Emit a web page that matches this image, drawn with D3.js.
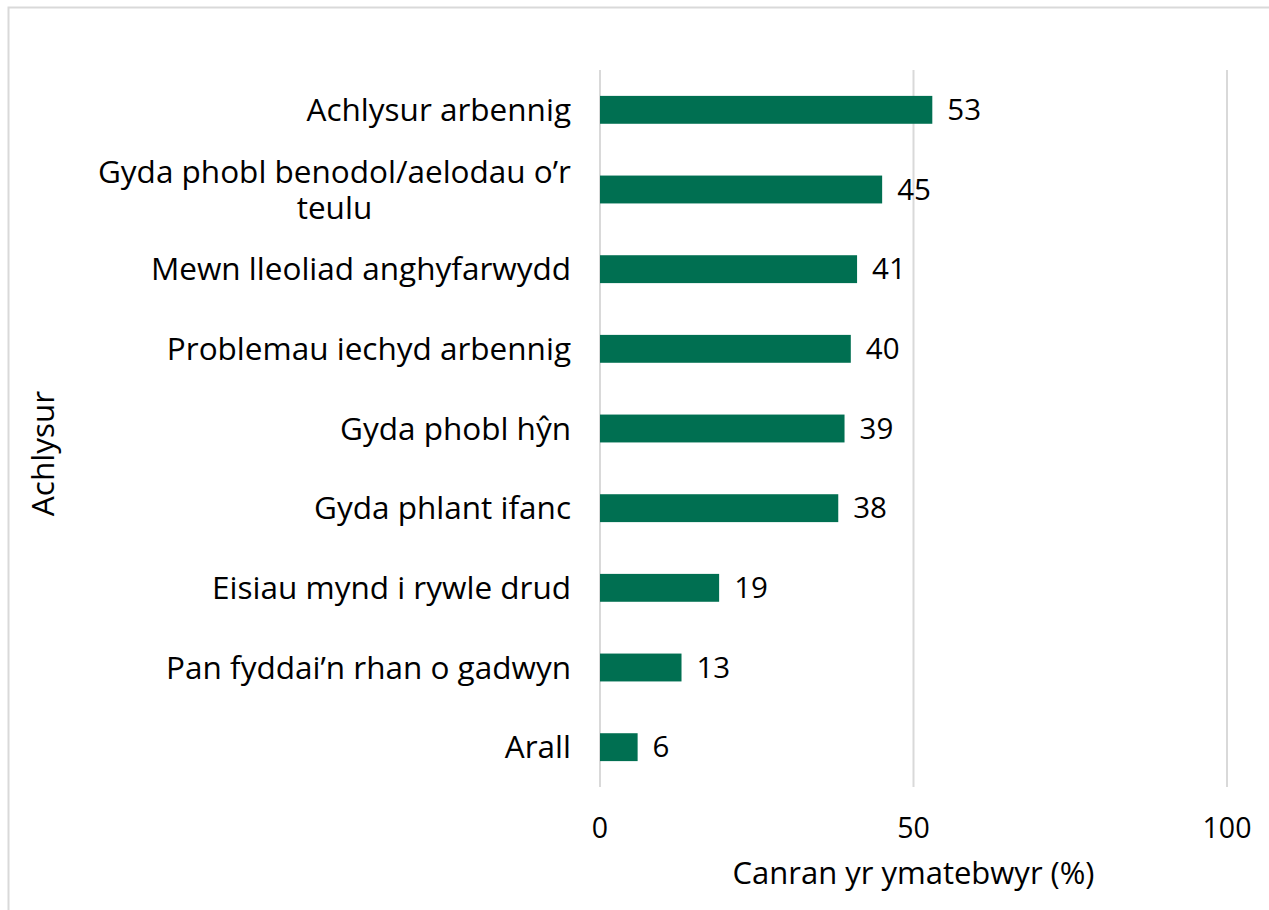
<!DOCTYPE html>
<html>
<head>
<meta charset="utf-8">
<script src="https://cdn.jsdelivr.net/npm/d3@7"></script>
<style>
    body { margin: 0; background: #fff; }
    text { font-family: "Open Sans", sans-serif; fill: #000; }
</style>
</head>
<body>
<svg id="chart" width="1269" height="910"></svg>
<script>
// data
var categories = [
    'Achlysur arbennig',
    'Gyda phobl benodol/aelodau o\u2019r|teulu',
    'Mewn lleoliad anghyfarwydd',
    'Problemau iechyd arbennig',
    'Gyda phobl h\u0177n',
    'Gyda phlant ifanc',
    'Eisiau mynd i rywle drud',
    'Pan fyddai\u2019n rhan o gadwyn',
    'Arall'
];
var values = [53, 45, 41, 40, 39, 38, 19, 13, 6];
var xTicks = [0, 50, 100];
var xTitle = 'Canran yr ymatebwyr (%)';
var yTitle = 'Achlysur';

var svg = d3.select('#chart');

// frame (only top and left edges show in the picture)
svg.append('rect')
    .attr('x', 8.5).attr('y', 7.5)
    .attr('width', 1300).attr('height', 1000)
    .attr('fill', 'none')
    .attr('stroke', '#d9d9d9')
    .attr('stroke-width', 2);

var plot = { left: 600, right: 1227, top: 70, bottom: 787 };

var x = d3.scaleLinear().domain([0, 100]).range([plot.left, plot.right]);
var y = d3.scaleBand().domain(categories).range([plot.top, plot.bottom]).paddingInner(0.65).paddingOuter(0.325);

// gridlines
svg.append('g').selectAll('line')
    .data(xTicks)
    .join('line')
    .attr('x1', function (d) { return x(d); })
    .attr('x2', function (d) { return x(d); })
    .attr('y1', plot.top)
    .attr('y2', plot.bottom)
    .attr('stroke', '#d9d9d9')
    .attr('stroke-width', 2);

// bars
svg.append('g').selectAll('rect')
    .data(values)
    .join('rect')
    .attr('x', x(0))
    .attr('y', function (d, i) { return y(categories[i]); })
    .attr('width', function (d) { return x(d) - x(0); })
    .attr('height', y.bandwidth())
    .attr('fill', '#006f51');

// value labels
svg.append('g').selectAll('text')
    .data(values)
    .join('text')
    .attr('x', function (d) { return x(d) + 15; })
    .attr('y', function (d, i) { return y(categories[i]) + y.bandwidth() / 2; })
    .attr('dy', '0.35em')
    .attr('font-size', 29.5)
    .text(function (d) { return d; });

// category labels, wrapped ones are centred as a block
var labelG = svg.append('g');
categories.forEach(function (c) {
    var lines = c.split('|');
    var cy = y(c) + y.bandwidth() / 2;
    var lineH = 36;
    var t = labelG.append('text')
        .attr('font-size', 31.5)
        .attr('text-anchor', 'end');
    lines.forEach(function (ln, j) {
        t.append('tspan')
            .attr('x', 571)
            .attr('y', cy + (j - (lines.length - 1) / 2) * lineH)
            .attr('dy', '0.35em')
            .text(ln);
    });
    if (lines.length > 1) {
        var widths = [];
        t.selectAll('tspan').each(function () { widths.push(this.getComputedTextLength()); });
        var maxW = d3.max(widths);
        t.attr('text-anchor', 'middle');
        t.selectAll('tspan').attr('x', 571 - maxW / 2);
    }
});

// x tick labels
svg.append('g').selectAll('text')
    .data(xTicks)
    .join('text')
    .attr('x', function (d) { return x(d); })
    .attr('y', 828)
    .attr('dy', '0.35em')
    .attr('text-anchor', 'middle')
    .attr('font-size', 28.5)
    .text(function (d) { return d; });

// axis titles
svg.append('text')
    .attr('x', x(50))
    .attr('y', 873)
    .attr('dy', '0.35em')
    .attr('text-anchor', 'middle')
    .attr('font-size', 31)
    .text(xTitle);

svg.append('text')
    .attr('transform', 'translate(43,' + ((plot.top + plot.bottom) / 2 + 25) + ') rotate(-90)')
    .attr('dy', '0.35em')
    .attr('text-anchor', 'middle')
    .attr('font-size', 31.5)
    .text(yTitle);
</script>
</body>
</html>
